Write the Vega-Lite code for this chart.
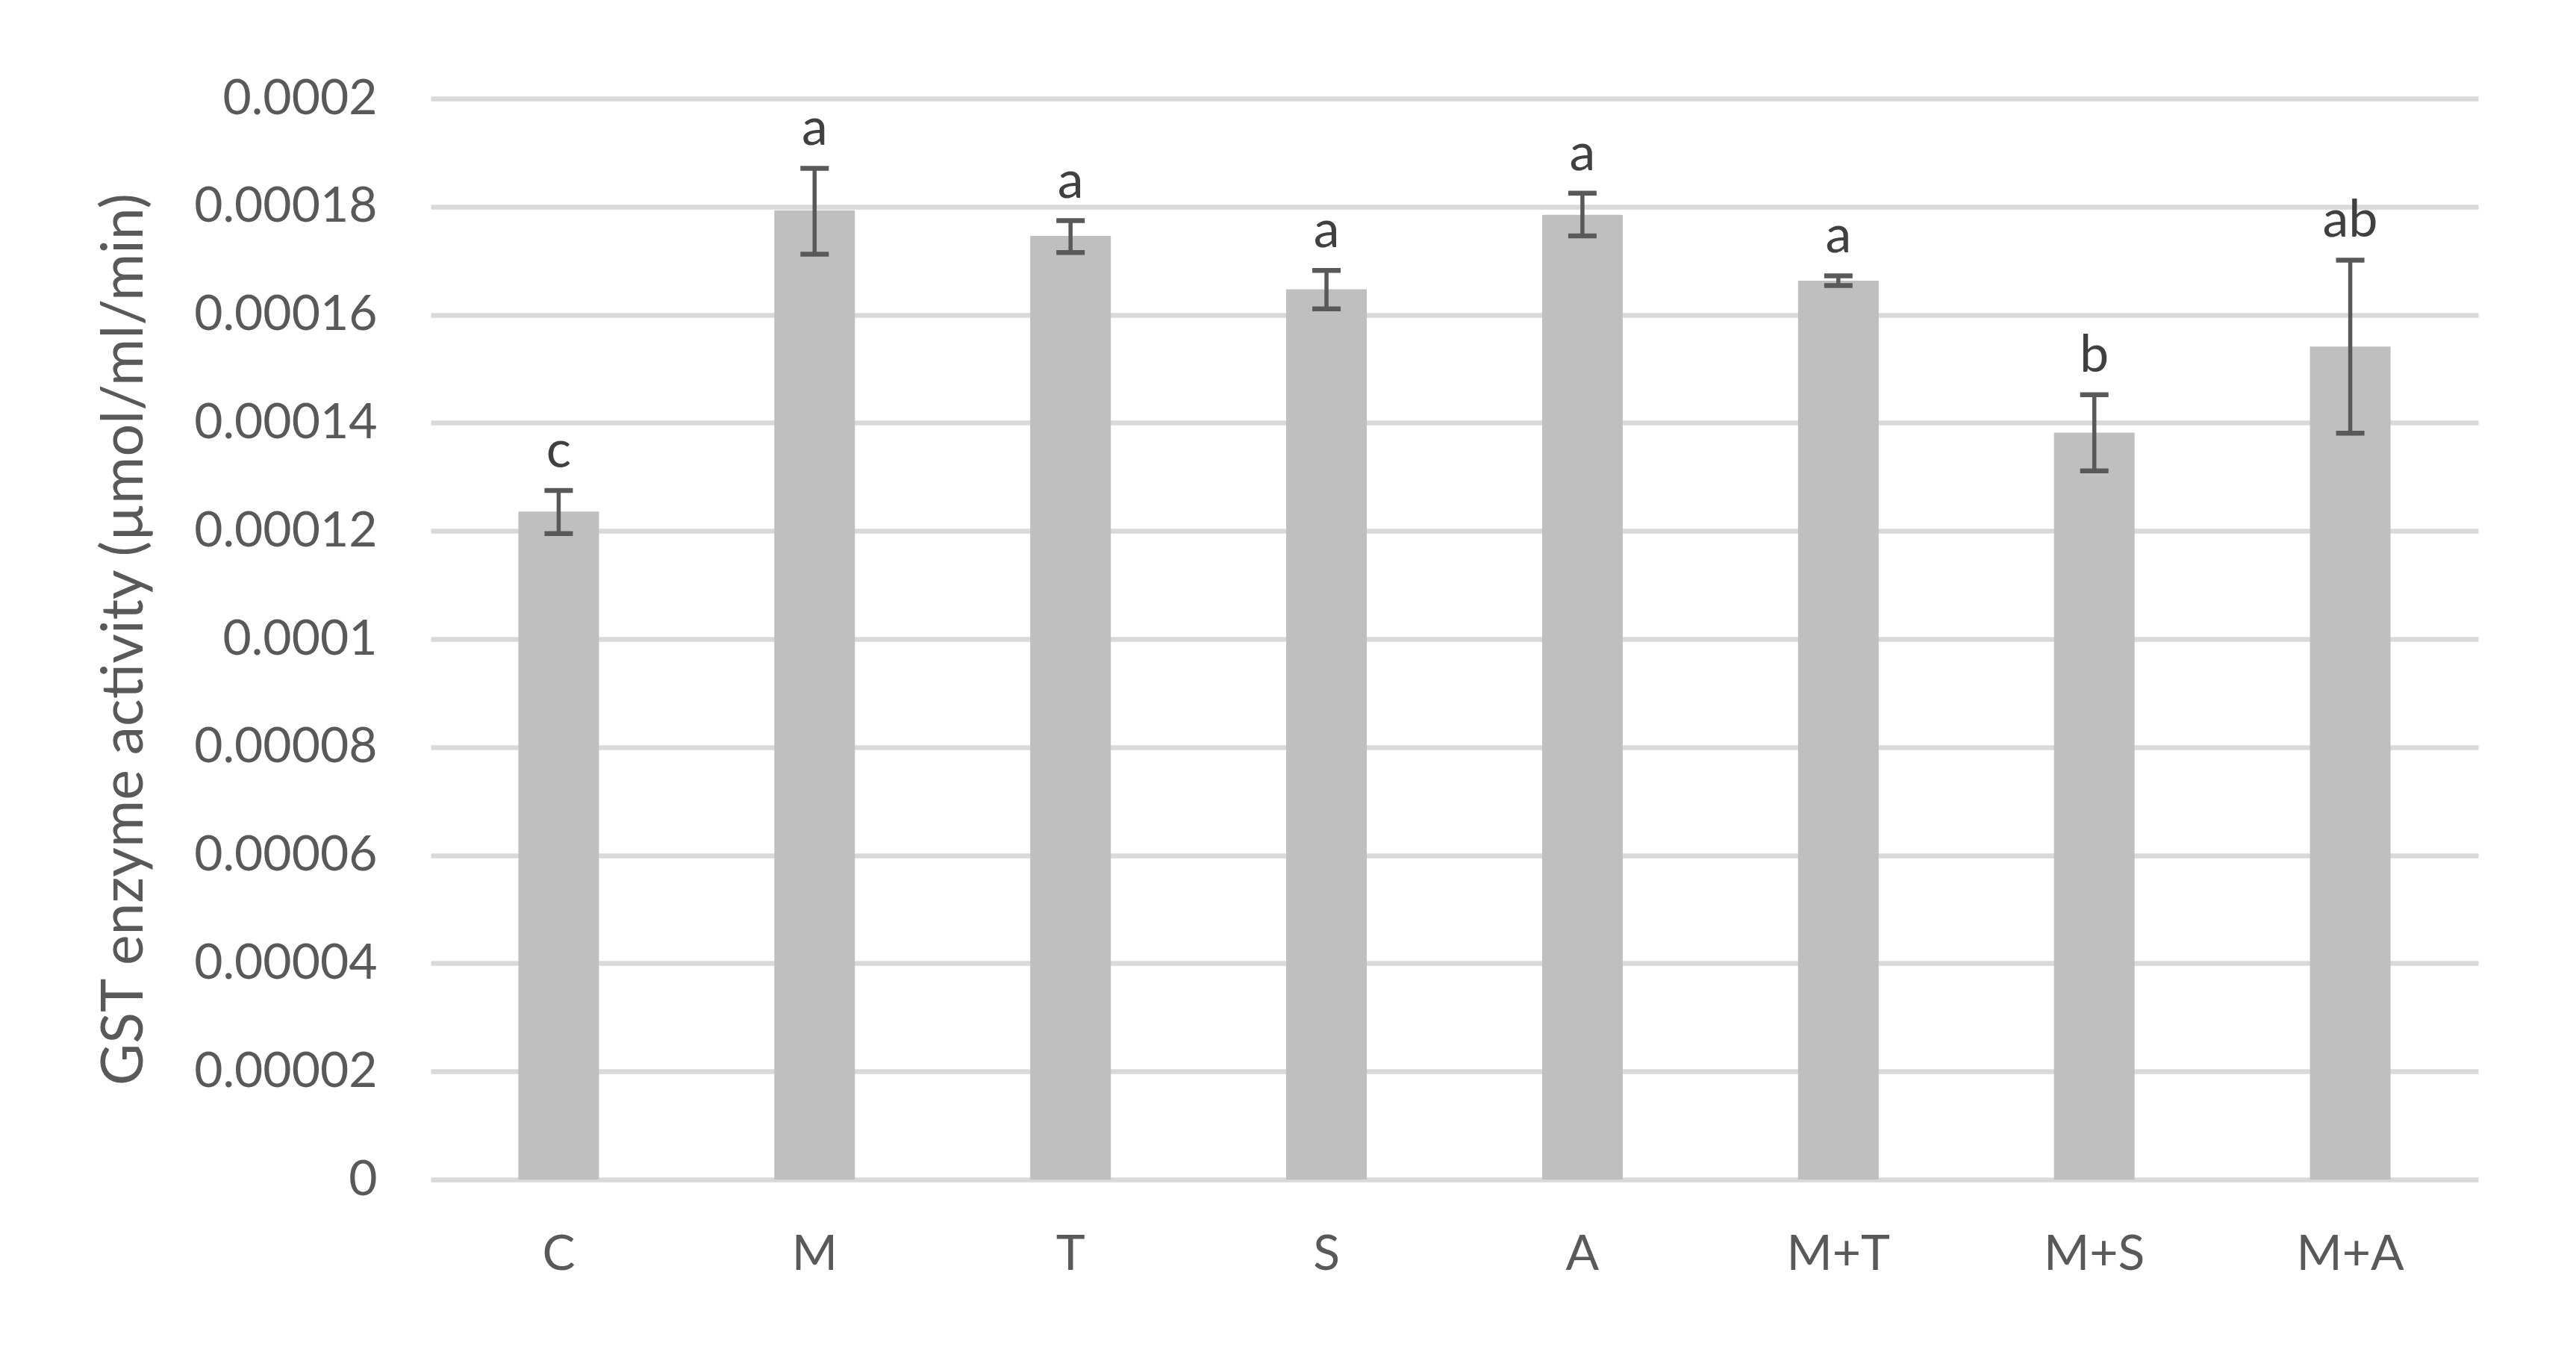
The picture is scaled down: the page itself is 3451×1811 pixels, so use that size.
{
  "$schema": "https://vega.github.io/schema/vega-lite/v6.json",
  "width": 2743,
  "height": 1448,
  "autosize": {"type": "none"},
  "padding": {"left": 577, "top": 132, "right": 131, "bottom": 231},
  "background": "white",
  "config": {"view": {"stroke": null}, "font": "Lato"},
  "data": {"values": [
    {"group": "C", "mean": 0.0001236, "lo": 0.0001195, "hi": 0.0001275, "sig": "c"},
    {"group": "M", "mean": 0.0001793, "lo": 0.0001712, "hi": 0.0001871, "sig": "a"},
    {"group": "T", "mean": 0.0001746, "lo": 0.0001715, "hi": 0.0001774, "sig": "a"},
    {"group": "S", "mean": 0.0001647, "lo": 0.0001611, "hi": 0.0001682, "sig": "a"},
    {"group": "A", "mean": 0.0001785, "lo": 0.0001746, "hi": 0.0001825, "sig": "a"},
    {"group": "M+T", "mean": 0.0001663, "lo": 0.0001654, "hi": 0.0001672, "sig": "a"},
    {"group": "M+S", "mean": 0.0001382, "lo": 0.0001311, "hi": 0.0001452, "sig": "b"},
    {"group": "M+A", "mean": 0.0001541, "lo": 0.0001381, "hi": 0.0001701, "sig": "ab"}
  ]},
  "encoding": {
    "x": {
      "field": "group", "type": "nominal", "sort": null,
      "scale": {"paddingInner": 0.685, "paddingOuter": 0.3425},
      "axis": {"title": null, "labelAngle": 0, "domain": false, "ticks": false, "labelPadding": 68, "labelFontSize": 66, "labelColor": "#595959", "labelFont": "Lato"}
    }
  },
  "layer": [
    {
      "mark": {"type": "bar", "color": "#bfbfbf"},
      "encoding": {
        "y": {
          "field": "mean", "type": "quantitative", "title": "GST enzyme activity (µmol/ml/min)",
          "scale": {"domain": [0, 0.0002], "nice": false},
          "axis": {
            "values": [0, 0.00002, 0.00004, 0.00006, 0.00008, 0.0001, 0.00012, 0.00014, 0.00016, 0.00018, 0.0002],
            "format": ".6~f", "grid": true, "gridColor": "#d9d9d9", "gridWidth": 6.5,
            "domain": false, "ticks": false, "labelPadding": 72, "labelFontSize": 66, "labelLimit": 600, "labelColor": "#595959", "labelFont": "Lato",
            "titleFontSize": 77, "titleColor": "#595959", "titleFontWeight": "normal", "titleFont": "Lato",
            "titleX": -387, "titleY": 724, "titleAngle": -90, "titleAlign": "center", "titleBaseline": "alphabetic"
          }
        }
      }
    },
    {
      "mark": {"type": "rule", "color": "#595959", "strokeWidth": 5.5},
      "encoding": {
        "y": {"field": "lo", "type": "quantitative", "title": "GST enzyme activity (µmol/ml/min)"},
        "y2": {"field": "hi"}
      }
    },
    {
      "mark": {"type": "tick", "color": "#595959", "thickness": 6.5, "size": 38, "opacity": 1},
      "encoding": {"y": {"field": "lo", "type": "quantitative", "title": "GST enzyme activity (µmol/ml/min)"}}
    },
    {
      "mark": {"type": "tick", "color": "#595959", "thickness": 6.5, "size": 38, "opacity": 1},
      "encoding": {"y": {"field": "hi", "type": "quantitative", "title": "GST enzyme activity (µmol/ml/min)"}}
    },
    {
      "mark": {"type": "text", "baseline": "alphabetic", "dy": -31, "fontSize": 70, "color": "#404040", "font": "Lato"},
      "encoding": {
        "y": {"field": "hi", "type": "quantitative", "title": "GST enzyme activity (µmol/ml/min)"},
        "text": {"field": "sig"}
      }
    }
  ]
}
